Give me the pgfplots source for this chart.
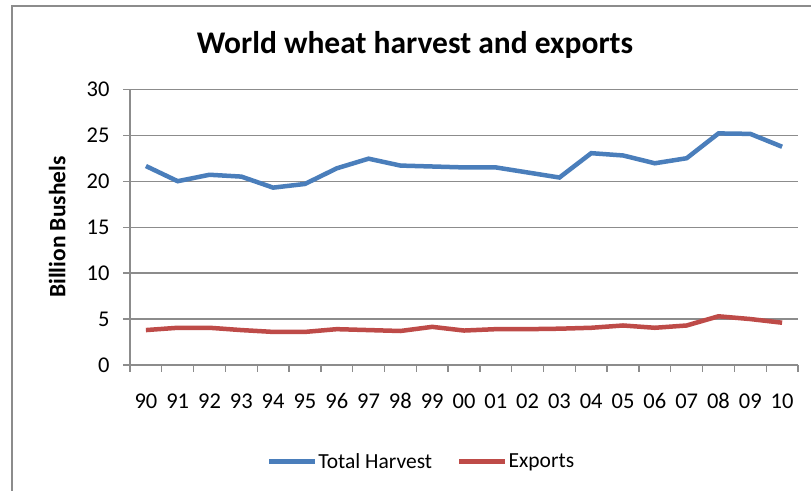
\documentclass[border=0pt]{standalone}
\usepackage{fontspec}
\setmainfont{Carlito}
\usepackage{pgfplots}
\pgfplotsset{compat=1.18}
\definecolor{harvest}{HTML}{4A7EBB}
\definecolor{exports}{HTML}{BE4B48}
\definecolor{gridgray}{HTML}{8C8C8C}

% World wheat, billion bushels, marketing years 1990-2010
\pgfplotstableread{
x harvest exports
0  21.65 3.80
1  20.00 4.05
2  20.70 4.05
3  20.50 3.80
4  19.30 3.60
5  19.70 3.60
6  21.40 3.90
7  22.45 3.80
8  21.70 3.70
9  21.60 4.15
10 21.50 3.75
11 21.50 3.90
12 20.95 3.90
13 20.40 3.95
14 23.05 4.05
15 22.80 4.30
16 21.95 4.05
17 22.50 4.30
18 25.20 5.30
19 25.15 5.00
20 23.75 4.60
}\wheat

\begin{document}
\begin{tikzpicture}[x=1pt,y=1pt]
\useasboundingbox (0,0) rectangle (811,490);
\fill[white] (0,0) rectangle (811,490);
% chart frame
\draw[gridgray, line width=1.3pt] (12,-20) rectangle (840,484);
\node[font=\bfseries\fontsize{31.5}{36}\selectfont] at (415,445) {World wheat harvest and exports};
\begin{axis}[
  at={(130pt,125pt)}, anchor=south west,
  scale only axis, width=668pt, height=275.7pt,
  xmin=-0.5, xmax=20.5, ymin=0, ymax=30,
  axis x line=bottom, axis y line=left,
  axis line style={gridgray, line width=1.3pt, -},
  tick align=outside,
  xtick={0,...,20},
  xticklabels={90,91,92,93,94,95,96,97,98,99,00,01,02,03,04,05,06,07,08,09,10},
  major x tick style={draw=none},
  minor xtick={-0.5,0.5,...,20.5},
  minor x tick style={gridgray, line width=1.3pt},
  minor tick length=6.5pt,
  ytick={0,5,...,30},
  major y tick style={gridgray, line width=1.3pt},
  major tick length=7pt,
  ymajorgrids,
  grid style={gridgray, line width=1.3pt},
  /pgf/number format/assume math mode=true,
  ticklabel style={font=\fontsize{22.5}{26}\selectfont, text=black},
  xticklabel style={yshift=-18pt},
  yticklabel style={xshift=-10pt},
  ylabel={Billion Bushels},
  every axis y label/.style={at={(axis description cs:-0.109,0.5)}, rotate=90, anchor=center,
    font=\bfseries\fontsize{23.5}{27}\selectfont},
  legend columns=2,
  legend style={at={(axis description cs:0.4356,-0.350)}, anchor=center, draw=none, fill=none,
    font=\fontsize{21.5}{25}\selectfont,
    /tikz/every even column/.append style={column sep=24pt},
    nodes={inner sep=1pt}},
  legend image code/.code={\draw[#1] (0pt,0pt) -- (46pt,0pt);},
]
\addplot[harvest, line width=4.5pt] table[x=x, y=harvest] {\wheat};
\addlegendentry{Total Harvest}
\addplot[exports, line width=4.5pt] table[x=x, y=exports] {\wheat};
\addlegendentry{Exports}
\end{axis}
\end{tikzpicture}
\end{document}
